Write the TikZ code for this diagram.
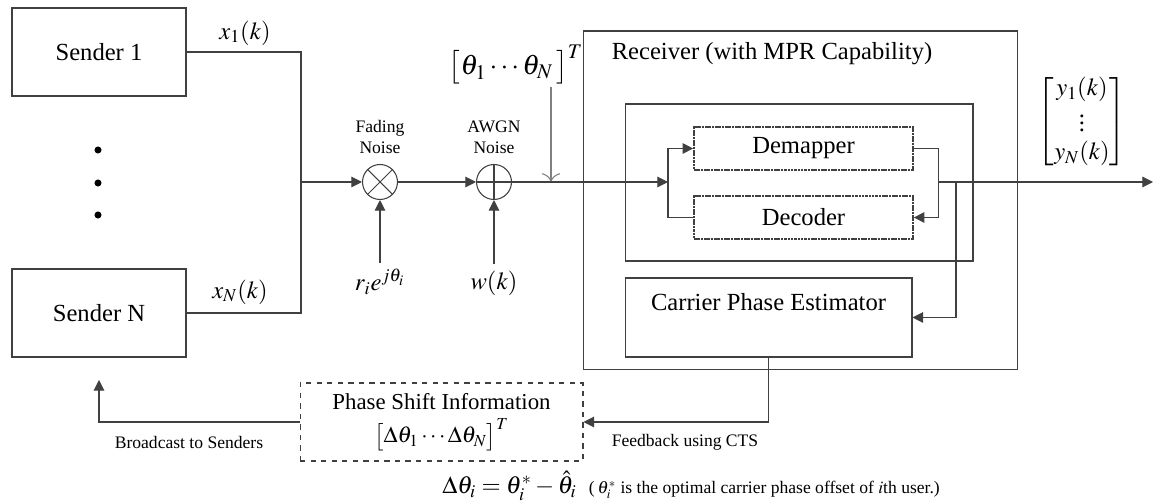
\documentclass[tikz,border=0pt]{standalone}
\usepackage{amsmath}
\usepackage{mathptmx}
\usepackage[no-math]{fontspec}
\setmainfont{Liberation Serif}
\usetikzlibrary{arrows.meta}
\definecolor{wiregray}{RGB}{64,64,64}
\definecolor{thetagray}{RGB}{128,128,128}
\tikzset{
  wire/.style={line width=0.6pt, draw=wiregray},
  flow/.style={wire, -{Triangle[length=6pt,width=6pt]}},
  big/.style={font=\fontsize{14}{16}\selectfont},
  small/.style={font=\fontsize{10}{12}\selectfont},
  block/.style={rectangle, draw=wiregray, line width=0.6pt, inner sep=0pt},
  sender-box/.style={block, big, minimum width=3.48cm, minimum height=1.76cm},
  unit-box/.style={block, big, line width=1pt, dash pattern=on 1.5pt off 0.4pt,
    minimum width=4.38cm, minimum height=0.86cm},
  node-mix/.style={circle, draw=wiregray, line width=0.6pt, minimum size=0.7cm, inner sep=0pt},
  node-dot/.style={circle, fill=black, minimum size=4pt, inner sep=0pt}
}

\begin{document}
\begin{tikzpicture}[x=0.02cm, y=-0.02cm]
  \useasboundingbox (0,0) rectangle (1153,502);

  % Senders
  \node[sender-box] (s1) at (99,52) {Sender 1};
  \node[sender-box] (sN) at (99,313) {Sender N};
  \foreach \y [count=\i] in {150,183,215} {
    \node[node-dot] (dot\i) at (98,\y) {};
  }
  \node[big] (x1) at (245,33) {$x_1(k)$};
  \node[big] (xN) at (240,292) {$x_N(k)$};
  \coordinate (join) at (301,182);
  \draw[wire] (s1.east) -| (join);
  \draw[wire] (sN.east) -| (join);

  % Channel
  \node[node-mix] (mix) at (380,182) {};
  \draw[wire] (mix.north west) -- (mix.south east) (mix.north east) -- (mix.south west);
  \node[node-mix] (awgn) at (494,182) {};
  \draw[wire] (awgn.north) -- (awgn.south) (awgn.west) -- (awgn.east);
  \node[small, align=center] (fade-lbl) at (380,137) {Fading\\Noise};
  \node[small, align=center] (awgn-lbl) at (494,137) {AWGN\\Noise};
  \node[big] (gain) at (380,282) {$r_i e^{j\theta_i}$};
  \node[big] (noise) at (494,283) {$w(k)$};
  \draw[flow] (join) -- (mix);
  \draw[flow] (gain) -- (mix);
  \draw[flow] (noise) -- (awgn);
  \draw[flow] (mix) -- (awgn);

  % Phase offsets
  \node[font=\fontsize{16}{18}\selectfont] (theta) at (516,65) {$\bigl[\theta_1\cdots\theta_N\,\bigr]^T$};
  \coordinate (theta-top) at (551,87);
  \coordinate (theta-in) at (551,182);
  \draw[wire, draw=thetagray, -{To[length=5pt]}] (theta-top) -- (theta-in);

  % Receiver
  \node[block, minimum width=8.7cm, minimum height=6.78cm] (rx) at (800.5,200.5) {};
  \node[big] (rx-lbl) at (772,54) {Receiver (with MPR Capability)};
  \node[block, minimum width=6.96cm, minimum height=3.14cm] (mpr) at (799,182.5) {};
  \node[unit-box] (dem) at (803.5,148.5) {Demapper};
  \node[unit-box] (dec) at (803.5,217.5) {Decoder};
  \node[block, minimum width=5.74cm, minimum height=1.58cm] (cpe) at (768.5,317.5) {};
  \node[big] (cpe-lbl) at (768.5,302) {Carrier Phase Estimator};
  \coordinate (split) at (668,182);
  \draw[flow] (awgn) -- (split);
  \draw[flow] (split) |- (dem);
  \draw[wire] (split) |- (dec);
  \draw[flow] (dem.east) -- ++(25,0) |- (dec.east);
  \coordinate (out-a) at (938,182);
  \coordinate (out-b) at (956,182);
  \coordinate (out-end) at (1153,182);
  \draw[flow] (out-a) -- (out-end);
  \draw[flow] (out-b) |- (cpe);
  \node[big] (yvec) at (1082,122) {$\begin{bmatrix} y_1(k)\\ \vdots\\ y_N(k)\end{bmatrix}$};

  % Feedback
  \node[block, dashed, align=center, font=\fontsize{13}{19}\selectfont,
    minimum width=5.66cm, minimum height=1.56cm] (phase) at (441.5,422)
    {Phase Shift Information\\ $\bigl[\Delta\theta_1\cdots\Delta\theta_N\bigr]^T$};
  \coordinate (bcast-end) at (99,380);
  \draw[flow] (phase.west) -| (bcast-end);
  \draw[flow] (cpe.south) |- (phase.east);
  \node[small] (bcast-lbl) at (189,442) {Broadcast to Senders};
  \node[small] (fb-lbl) at (685,442) {Feedback using CTS};
  \node[big, anchor=west, inner sep=0pt] (eq) at (442,486) {$\Delta\theta_i=\theta_i^*-\hat{\theta}_i$\ \
    {\fontsize{10}{12}\selectfont(\,$\theta_i^*$ is the optimal carrier phase offset of $i$th user.)}};
\end{tikzpicture}
\end{document}
